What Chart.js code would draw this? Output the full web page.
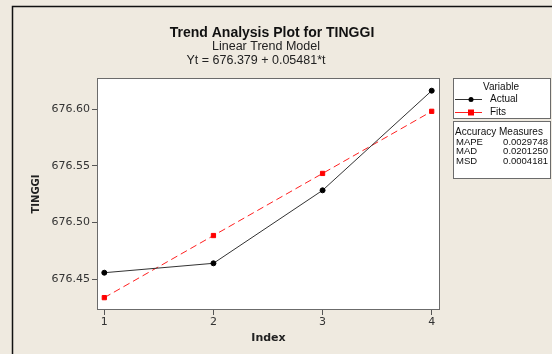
<!DOCTYPE html>
<html>
<head>
<meta charset="utf-8">
<script src="https://cdn.jsdelivr.net/npm/chart.js@4"></script>
<style>
  html, body { margin: 0; padding: 0; background: #efeae0; }
  #wrap { width: 552px; height: 354px; position: relative; }
</style>
</head>
<body>
<div id="wrap"><canvas id="trend-chart" width="552" height="354"></canvas></div>
<script>
// Data
const indexValues = [1, 2, 3, 4];
const actualValues = [676.4558, 676.4641, 676.5285, 676.6164];
const fitValues = [676.4338, 676.4886, 676.5434, 676.5982];
const xTicks = [1, 2, 3, 4];
const yTicks = [676.45, 676.50, 676.55, 676.60];
const titleLines = ['Trend Analysis Plot for TINGGI', 'Linear Trend Model', 'Yt = 676.379 + 0.05481*t'];
const accuracyNames = ['MAPE', 'MAD', 'MSD'];
const accuracyValues = ['0.0029748', '0.0201250', '0.0004181'];

const tickFont = { family: 'DejaVu Sans', size: 11 };

// Minitab style frame, titles and the two legend boxes
const minitabDecor = {
    id: 'minitabDecor',
    beforeDraw(chart) {
        const ctx = chart.ctx;
        const a = chart.chartArea;
        ctx.save();
        ctx.fillStyle = '#efeae0';
        ctx.fillRect(0, 0, chart.width, chart.height);
        // outer frame (only top and left visible)
        ctx.strokeStyle = '#111';
        ctx.lineWidth = 1.5;
        ctx.beginPath();
        ctx.moveTo(12.5, chart.height);
        ctx.lineTo(12.5, 6.5);
        ctx.lineTo(chart.width, 6.5);
        ctx.stroke();
        ctx.fillStyle = '#ffffff';
        ctx.fillRect(a.left, a.top, a.right - a.left, a.bottom - a.top);
        ctx.restore();
    },
    afterDraw(chart) {
        const ctx = chart.ctx;
        const a = chart.chartArea;
        ctx.save();
        ctx.strokeStyle = '#6b6b6b';
        ctx.lineWidth = 1;
        ctx.strokeRect(a.left + 0.5, a.top + 0.5, a.right - a.left - 1, a.bottom - a.top - 1);

        // titles
        ctx.textAlign = 'center';
        ctx.textBaseline = 'middle';
        ctx.fillStyle = '#111';
        ctx.font = 'bold 14px "Liberation Sans"';
        ctx.fillText(titleLines[0], 272, 33);
        ctx.font = '12.5px "Liberation Sans"';
        ctx.fillStyle = '#222';
        ctx.fillText(titleLines[1], 266, 47);
        ctx.fillText(titleLines[2], 256, 61);

        // legend box
        const bx = 453.5, bw = 97;
        ctx.fillStyle = '#ffffff';
        ctx.fillRect(bx, 78.5, bw, 40);
        ctx.fillRect(bx, 121.5, bw, 57);
        ctx.strokeStyle = '#6b6b6b';
        ctx.strokeRect(bx, 78.5, bw, 40);
        ctx.strokeRect(bx, 121.5, bw, 57);

        ctx.font = '10px "Liberation Sans"';
        ctx.fillStyle = '#111';
        ctx.fillText('Variable', 501, 87);
        ctx.textAlign = 'left';
        const sets = chart.data.datasets;
        const rowsY = [99.5, 112.5];
        sets.forEach((ds, i) => {
            const y = rowsY[i];
            ctx.strokeStyle = ds.borderColor;
            ctx.lineWidth = 1;
            ctx.setLineDash([]);
            ctx.beginPath();
            ctx.moveTo(455, y);
            ctx.lineTo(482, y);
            ctx.stroke();
            ctx.fillStyle = ds.pointBackgroundColor;
            if (ds.pointStyle === 'rect') {
                ctx.fillRect(468, y - 3, 6, 6);
            } else {
                ctx.beginPath();
                ctx.arc(471, y, 2.5, 0, Math.PI * 2);
                ctx.fill();
            }
            ctx.fillStyle = '#111';
            ctx.fillText(ds.label, 490, y);
        });

        ctx.textAlign = 'center';
        ctx.fillText('Accuracy Measures', 499, 132);
        ctx.font = '9.5px "Liberation Sans"';
        accuracyNames.forEach((name, i) => {
            const y = 142 + i * 9.7;
            ctx.textAlign = 'left';
            ctx.fillText(name, 456, y);
            ctx.textAlign = 'right';
            ctx.fillText(accuracyValues[i], 548, y);
        });
        ctx.restore();
    }
};

new Chart(document.getElementById('trend-chart'), {
    type: 'line',
    data: {
        datasets: [{
            label: 'Actual',
            data: indexValues.map((x, i) => ({ x: x, y: actualValues[i] })),
            borderColor: '#333333',
            borderWidth: 1,
            pointBackgroundColor: '#000000',
            pointBorderColor: '#000000',
            pointRadius: 2.5,
            pointStyle: 'circle',
            tension: 0
        }, {
            label: 'Fits',
            data: indexValues.map((x, i) => ({ x: x, y: fitValues[i] })),
            borderColor: '#ff2020',
            borderWidth: 1,
            borderDash: [7, 4],
            pointBackgroundColor: '#ff0000',
            pointBorderColor: '#ff0000',
            pointRadius: 3,
            pointStyle: 'rect',
            tension: 0
        }]
    },
    options: {
        responsive: false,
        animation: false,
        layout: {
            padding: { left: 20, right: 112, top: 78, bottom: 4 }
        },
        scales: {
            x: {
                type: 'linear',
                min: 0.933,
                max: 4.076,
                afterBuildTicks: scale => { scale.ticks = xTicks.map(v => ({ value: v })); },
                afterFit: scale => { scale.height = 40; },
                grid: {
                    drawOnChartArea: false,
                    drawTicks: true,
                    tickLength: 5,
                    color: '#555555'
                },
                border: { display: false },
                ticks: {
                    font: tickFont,
                    color: '#333333',
                    padding: 1,
                    maxRotation: 0,
                    callback: value => value.toString()
                },
                title: {
                    display: true,
                    text: 'Index',
                    font: { family: 'DejaVu Sans', size: 11, weight: 'bold' },
                    color: '#222222',
                    padding: { top: 0, bottom: 5 }
                }
            },
            y: {
                min: 676.4229,
                max: 676.6276,
                afterBuildTicks: scale => { scale.ticks = yTicks.map(v => ({ value: v })); },
                afterFit: scale => { scale.width = 77; },
                grid: {
                    drawOnChartArea: false,
                    drawTicks: true,
                    tickLength: 5,
                    color: '#555555'
                },
                border: { display: false },
                ticks: {
                    font: tickFont,
                    color: '#333333',
                    padding: 2,
                    callback: value => value.toFixed(2)
                },
                title: {
                    display: true,
                    text: 'TINGGI',
                    font: { family: 'DejaVu Sans', size: 10, weight: 'bold' },
                    color: '#222222',
                    padding: { top: 10, bottom: 0 }
                }
            }
        },
        plugins: {
            legend: { display: false },
            title: { display: false },
            tooltip: { enabled: false }
        }
    },
    plugins: [minitabDecor]
});
</script>
</body>
</html>
